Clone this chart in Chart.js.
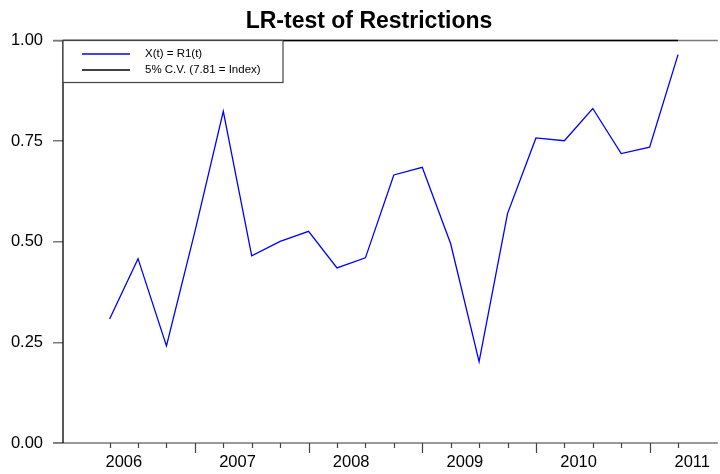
<!DOCTYPE html>
<html>
<head>
<meta charset="utf-8">
<script src="https://cdn.jsdelivr.net/npm/chart.js@4/dist/chart.umd.min.js"></script>
<style>
  html, body { margin: 0; padding: 0; background: #fff; }
  #wrap { width: 720px; height: 474px; }
</style>
</head>
<body>
<div id="wrap"><canvas id="c" width="720" height="474"></canvas></div>
<script>
// Quarterly observation dates (decimal years) and the LR statistic relative to its 5% critical value
const periods = [2006.25, 2006.5, 2006.75, 2007.0, 2007.25, 2007.5, 2007.75, 2008.0, 2008.25, 2008.5,
                 2008.75, 2009.0, 2009.25, 2009.5, 2009.75, 2010.0, 2010.25, 2010.5, 2010.75, 2011.0, 2011.25];
const lrStat  = [0.308, 0.458, 0.241, 0.525, 0.824, 0.465, 0.501, 0.526, 0.435, 0.460,
                 0.666, 0.685, 0.495, 0.202, 0.570, 0.758, 0.751, 0.831, 0.719, 0.735, 0.965];
const yearLabels = [2006, 2007, 2008, 2009, 2010, 2011];
const criticalValue = 1.0;
const axisStart = 2005.84;
const axisEnd = 2011.6;
const yTicks = [0, 0.25, 0.5, 0.75, 1.0];
const titleText = 'LR-test of Restrictions';

const FONT = '"Liberation Sans", Arial, Helvetica, sans-serif';

const lrPoints = periods.map((p, i) => ({ x: p, y: lrStat[i] }));
const cvPoints = [{ x: axisStart, y: criticalValue }, { x: periods[periods.length - 1], y: criticalValue }];

// Title, frame lines, quarterly tick marks and the boxed legend
const decorations = {
  id: 'decorations',
  beforeDatasetsDraw(chart) {
    const { ctx, chartArea: a, scales: { x } } = chart;
    ctx.save();
    // title, centred a little right of the canvas middle
    ctx.fillStyle = '#000';
    ctx.font = 'bold 23px ' + FONT;
    ctx.textAlign = 'center';
    ctx.textBaseline = 'alphabetic';
    ctx.fillText(titleText, chart.width / 2 + 9, 28);

    ctx.lineWidth = 1.5;
    ctx.strokeStyle = '#7a7a7a';
    ctx.beginPath();
    ctx.moveTo(a.left - 10, a.top); ctx.lineTo(a.right, a.top);
    ctx.moveTo(a.left - 10, a.bottom); ctx.lineTo(a.right, a.bottom);
    ctx.stroke();
    ctx.strokeStyle = '#000';
    ctx.lineWidth = 1.3;
    ctx.beginPath();
    ctx.moveTo(a.left, a.top); ctx.lineTo(a.left, a.bottom);
    ctx.stroke();
    // quarter ticks, longer at the start of each year
    ctx.strokeStyle = '#444';
    ctx.lineWidth = 1.2;
    ctx.beginPath();
    periods.forEach(p => {
      const px = Math.round(x.getPixelForValue(p)) + 0.5;
      const len = Number.isInteger(p) ? 10 : 5;
      ctx.moveTo(px, a.bottom); ctx.lineTo(px, a.bottom + len);
    });
    ctx.stroke();
    ctx.restore();
  },
  afterDatasetsDraw(chart) {
    const { ctx, chartArea: a } = chart;
    const left = a.left, top = a.top, w = 220, h = 42;
    ctx.save();
    ctx.fillStyle = '#fff';
    ctx.fillRect(left, top, w, h);
    ctx.strokeStyle = '#444';
    ctx.lineWidth = 1.2;
    ctx.strokeRect(left, top, w, h);
    ctx.font = '11.5px ' + FONT;
    ctx.textBaseline = 'middle';
    ctx.textAlign = 'left';
    chart.data.datasets.forEach((ds, i) => {
      const y = top + 13.5 + i * 16;
      ctx.strokeStyle = ds.borderColor;
      ctx.lineWidth = 1.5;
      ctx.beginPath();
      ctx.moveTo(left + 19, y); ctx.lineTo(left + 67, y);
      ctx.stroke();
      ctx.fillStyle = '#000';
      ctx.fillText(ds.label, left + 82, y);
    });
    ctx.restore();
  }
};

new Chart(document.getElementById('c'), {
  type: 'line',
  data: {
    datasets: [
      { label: 'X(t) = R1(t)', data: lrPoints, borderColor: '#0000ff', borderWidth: 1.3,
        pointRadius: 0, tension: 0, fill: false },
      { label: '5% C.V. (7.81 = Index)', data: cvPoints, borderColor: '#000000', borderWidth: 1.6,
        pointRadius: 0, tension: 0, fill: false, clip: 4 }
    ]
  },
  options: {
    responsive: false,
    animation: false,
    layout: { padding: { left: 0, right: 0, top: 40.5, bottom: 0 } },
    plugins: {
      legend: { display: false },
      tooltip: { enabled: false },
      title: { display: false }
    },
    scales: {
      x: {
        type: 'linear',
        min: axisStart,
        max: axisEnd,
        afterBuildTicks(scale) {
          scale.ticks = yearLabels.map(y => ({ value: y + 0.375 }));
        },
        afterFit(scale) { scale.height = 31; },
        border: { display: false },
        grid: { display: false, drawTicks: false },
        ticks: {
          autoSkip: false, maxRotation: 0, padding: 10, color: '#000',
          font: { family: FONT, size: 16.5 },
          callback: v => String(Math.floor(v))
        }
      },
      y: {
        min: 0,
        max: 1,
        afterBuildTicks(scale) {
          scale.ticks = yTicks.map(v => ({ value: v }));
        },
        afterFit(scale) { scale.width = 63; },
        border: { display: false },
        grid: { drawOnChartArea: false, drawTicks: true, tickLength: 10, color: '#7a7a7a', lineWidth: 1.5 },
        ticks: {
          padding: 10, color: '#000',
          font: { family: FONT, size: 16.5 },
          callback: v => v.toFixed(2)
        }
      }
    }
  },
  plugins: [decorations]
});
</script>
</body>
</html>
